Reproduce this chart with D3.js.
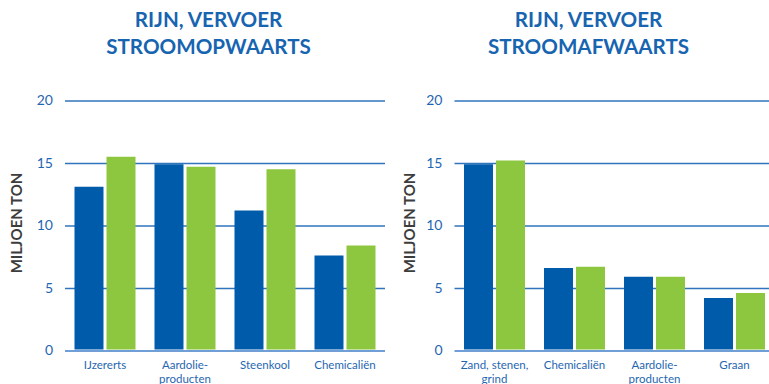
<!DOCTYPE html>
<html><head><meta charset="utf-8">
<script src="https://cdn.jsdelivr.net/npm/d3@7"></script>
<style>
html,body{margin:0;padding:0;background:#fff;}
svg{display:block;font-family:Lato,"Open Sans",sans-serif;}
</style></head><body>
<svg id="c" width="769" height="384"></svg>
<script>
// Data
const titlesLeft = ["RIJN, VERVOER", "STROOMOPWAARTS"];
const titlesRight = ["RIJN, VERVOER", "STROOMAFWAARTS"];
const catsLeft = [["IJzererts"], ["Aardolie-", "producten"], ["Steenkool"], ["Chemicaliën"]];
const catsRight = [["Zand, stenen,", "grind"], ["Chemicaliën"], ["Aardolie-", "producten"], ["Graan"]];
const seriesAleft = [13.1, 14.9, 11.2, 7.6];
const seriesBleft = [15.5, 14.7, 14.5, 8.4];
const seriesAright = [14.9, 6.6, 5.9, 4.2];
const seriesBright = [15.2, 6.7, 5.9, 4.6];
const yTicks = [0, 5, 10, 15, 20];
const yLabel = "MILJOEN TON";

const blue = "#005baa", green = "#8dc63f", textBlue = "#1f66b1", gridCol = "#2f74bd";
const svg = d3.select("#c");

function panel(o) {
  const y = d3.scaleLinear().domain([0, 20]).range([350.5, 100.5]);
  const x = d3.scaleBand().domain(d3.range(o.cats.length)).range([o.x0, o.x0 + 320]).paddingInner(0.2375).paddingOuter(0.11875);
  const xi = d3.scaleBand().domain([0, 1]).range([0, x.bandwidth()]).paddingInner(0.094);
  const g = svg.append("g");
  // title
  const t = g.append("text").attr("text-anchor", "middle").attr("fill", "#1764b0")
    .attr("font-weight", 700).attr("font-size", 20.6);
  o.title.forEach((s, i) => t.append("tspan").attr("x", o.tx).attr("y", 27 + i * 26.5).text(s));
  // grid + y axis
  const ax = d3.axisLeft(y).tickValues(yTicks).tickSize(-320).tickPadding(12);
  const axg = g.append("g").attr("transform", `translate(${o.x0},0)`).call(ax);
  axg.select(".domain").remove();
  axg.selectAll(".tick line").attr("stroke", (d) => d === 0 ? "#6f9fd6" : gridCol).attr("stroke-width", (d) => d === 0 ? 2 : 1.3);
  axg.selectAll(".tick text").attr("fill", textBlue).attr("font-size", 14).attr("font-family", "Lato, sans-serif");
  // bars
  const data = o.cats.map((c, i) => [o.a[i], o.b[i]]);
  const grp = g.selectAll("g.grp").data(data).join("g").attr("transform", (d, i) => `translate(${x(i)},0)`);
  grp.selectAll("rect").data(d => d).join("rect")
    .attr("x", (d, j) => xi(j)).attr("width", xi.bandwidth())
    .attr("y", d => y(d)).attr("height", d => y(0) - 1 - y(d))
    .attr("fill", (d, j) => j === 0 ? blue : green);
  // category labels
  o.cats.forEach((c, i) => {
    const tt = g.append("text").attr("text-anchor", "middle").attr("fill", textBlue).attr("font-size", 11.5);
    c.forEach((s, k) => tt.append("tspan").attr("x", x(i) + x.bandwidth() / 2).attr("y", 368.5 + k * 14.5).text(s));
  });
  // y label
  g.append("text").attr("transform", `translate(${o.lx},223) rotate(-90)`).attr("text-anchor", "middle")
    .attr("fill", "#3d3d3d").attr("font-weight", 700).attr("font-size", 15).text(yLabel);
}

panel({x0: 65, title: titlesLeft, tx: 208.5, cats: catsLeft, a: seriesAleft, b: seriesBleft, lx: 22});
panel({x0: 454.5, title: titlesRight, tx: 588.5, cats: catsRight, a: seriesAright, b: seriesBright, lx: 415});
</script>
</body></html>
